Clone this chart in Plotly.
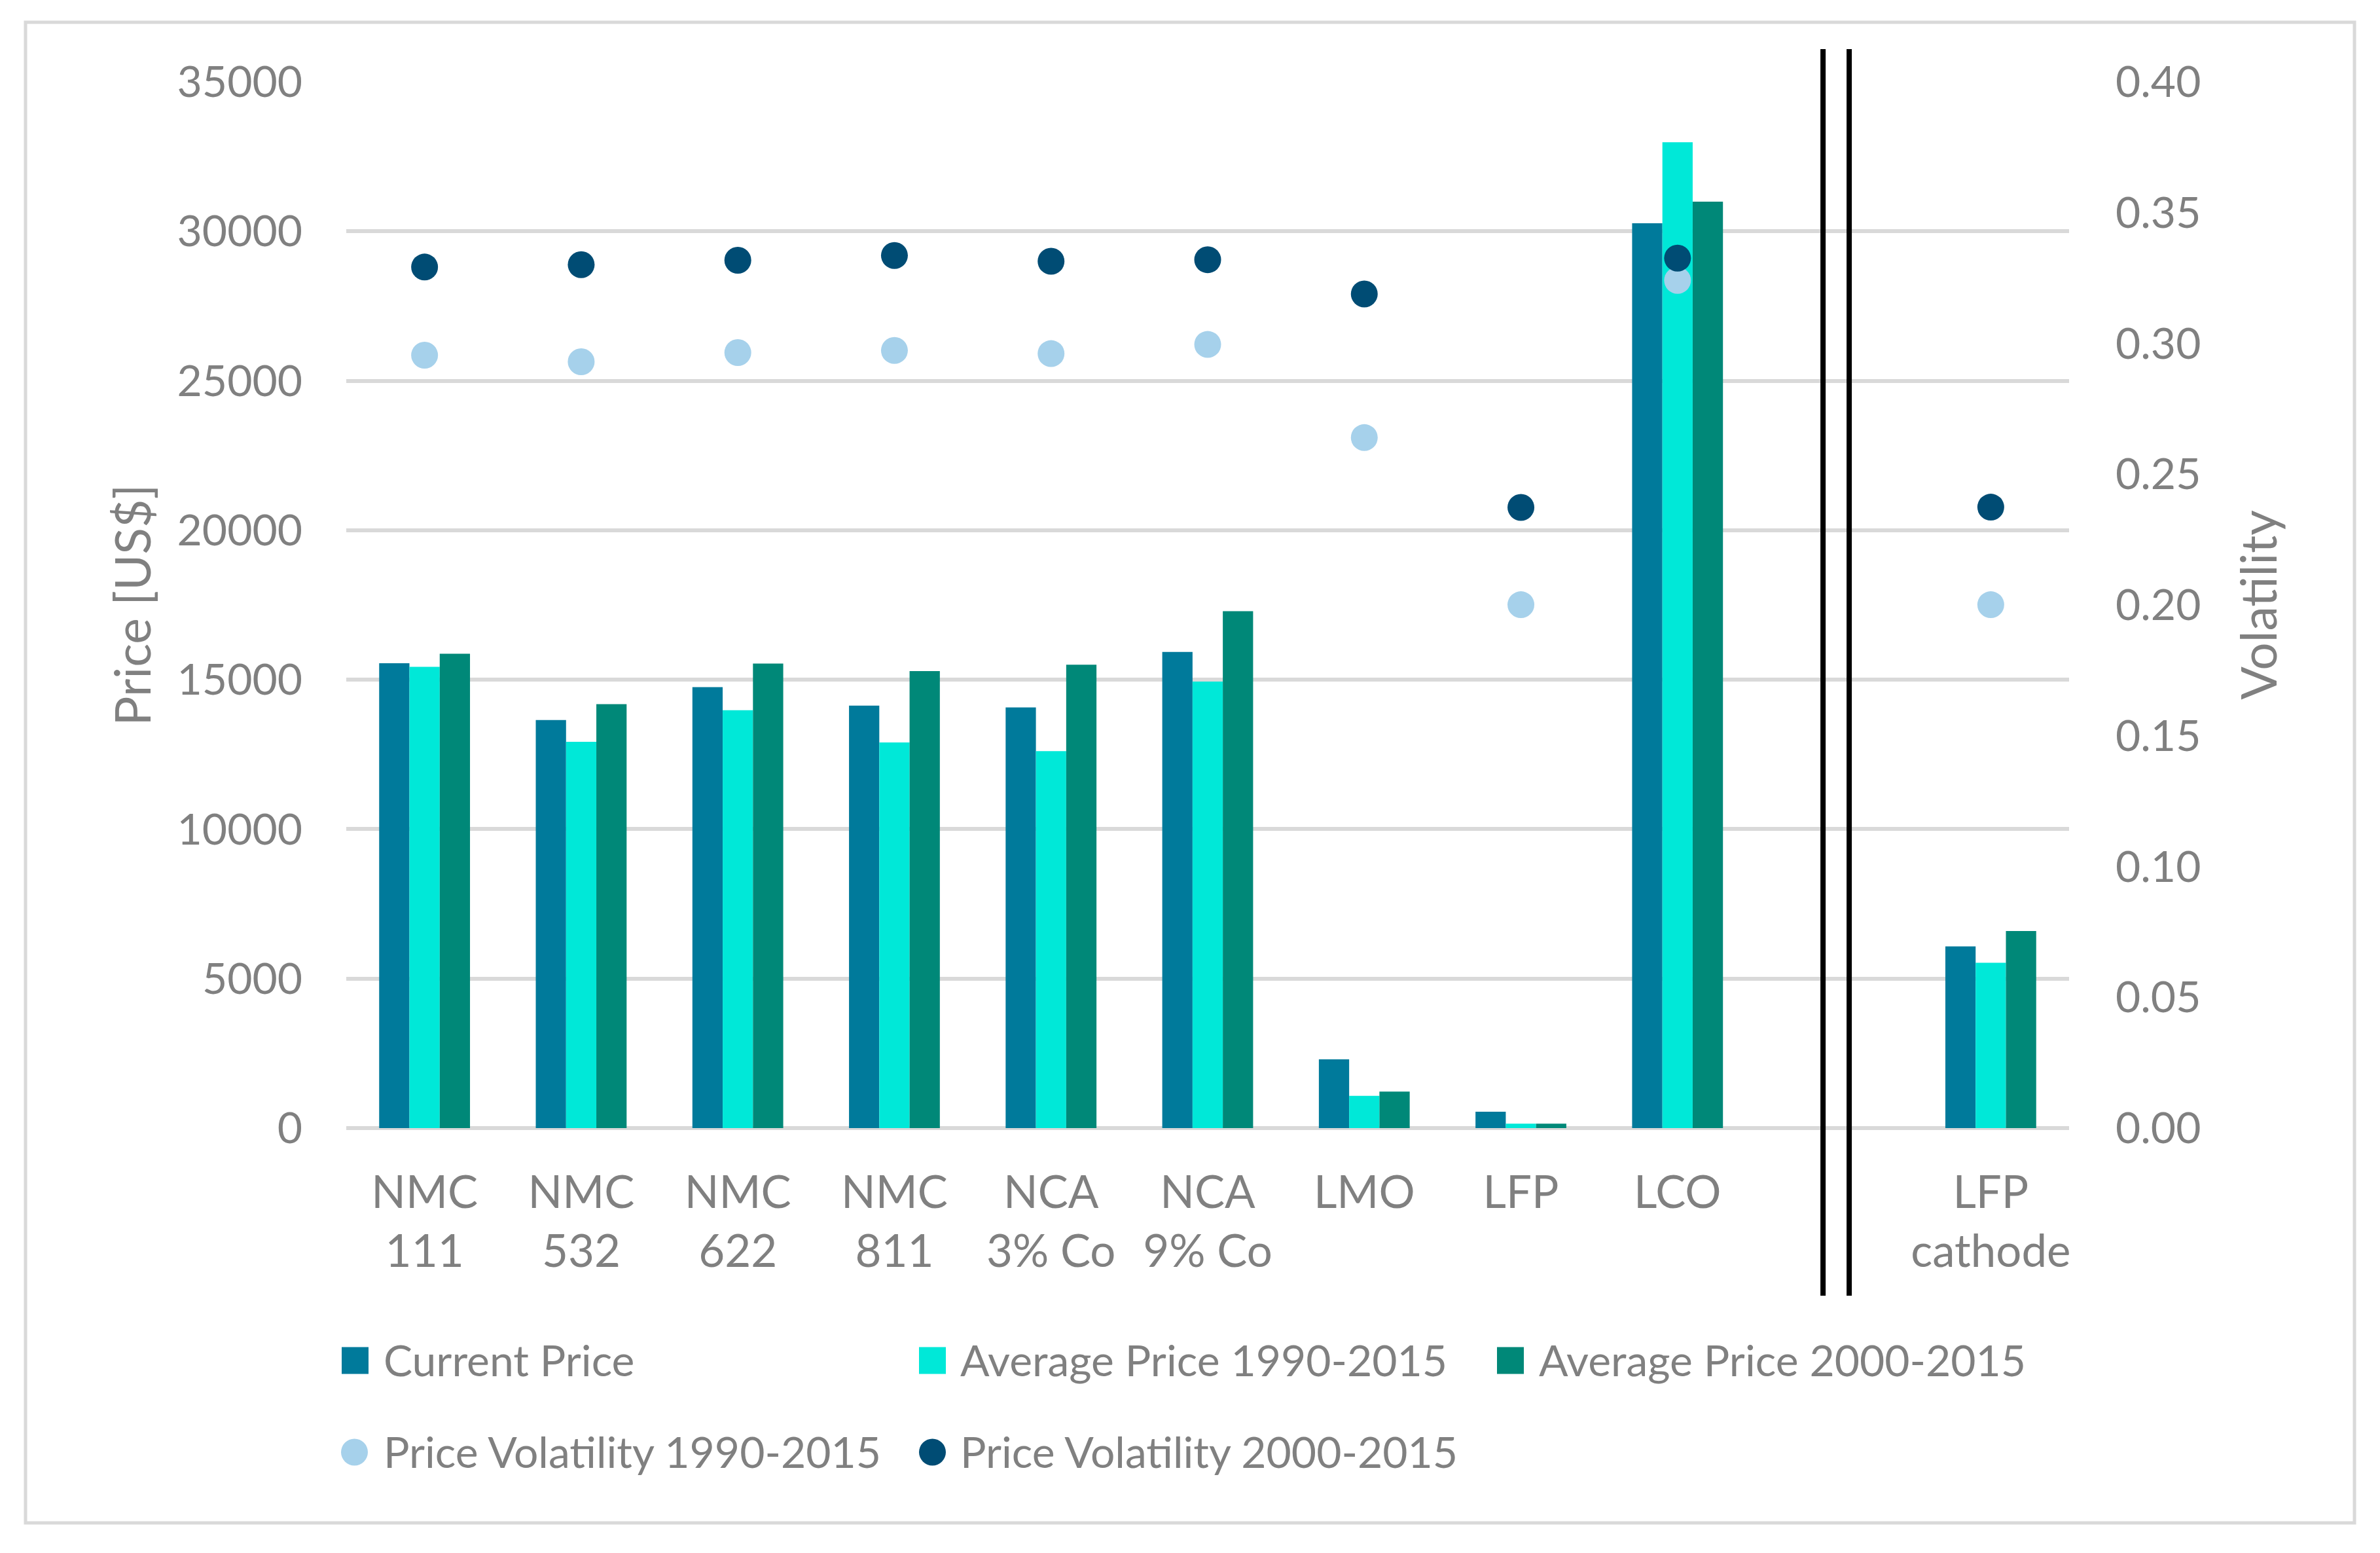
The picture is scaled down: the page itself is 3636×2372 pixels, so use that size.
import plotly.graph_objects as go

# ---------------- data ----------------
categories = ["NMC<br>111", "NMC<br>532", "NMC<br>622", "NMC<br>811",
              "NCA<br>3% Co", "NCA<br>9% Co", "LMO", "LFP", "LCO", " ",
              "LFP<br>cathode"]
current_price = [15550, 13650, 14750, 14130, 14070, 15930, 2300, 550, 30270, None, 6080]
avg_price_1990_2015 = [15430, 12920, 13980, 12900, 12610, 14940, 1080, 150, 32980, None, 5530]
avg_price_2000_2015 = [15870, 14180, 15540, 15290, 15500, 17290, 1220, 150, 30990, None, 6590]
volatility_1990_2015 = [0.2955, 0.2930, 0.2965, 0.2973, 0.2961, 0.2996, 0.2640, 0.2001, 0.3241, None, 0.2001]
volatility_2000_2015 = [0.3292, 0.3301, 0.3318, 0.3336, 0.3314, 0.3320, 0.3189, 0.2373, 0.3326, None, 0.2374]
price_ticks = [0, 5000, 10000, 15000, 20000, 25000, 30000, 35000]
vol_ticks = [0.00, 0.05, 0.10, 0.15, 0.20, 0.25, 0.30, 0.35, 0.40]

# ---------------- style ----------------
FONT = "Lato"
GRAY = "#808080"
GRID = "#D9D9D9"
C_CUR = "#007A9B"
C_A90 = "#00E8D8"
C_A00 = "#008878"
C_V90 = "#A6D1EB"
C_V00 = "#004C74"

W, H = 3636, 2372
ML, MR, MT, MB = 529, 475, 125, 649
PW = W - ML - MR
PH = H - MT - MB


def px_x(px):
    return (px - ML) / PW


def px_y(py):
    return (H - MB - py) / PH


fig = go.Figure()
fig.add_trace(go.Bar(x=categories, y=current_price, name="Current Price",
                     marker=dict(color=C_CUR, line=dict(width=0)), showlegend=False))
fig.add_trace(go.Bar(x=categories, y=avg_price_1990_2015, name="Average Price 1990-2015",
                     marker=dict(color=C_A90, line=dict(width=0)), showlegend=False))
fig.add_trace(go.Bar(x=categories, y=avg_price_2000_2015, name="Average Price 2000-2015",
                     marker=dict(color=C_A00, line=dict(width=0)), showlegend=False))
fig.add_trace(go.Scatter(x=categories, y=volatility_1990_2015, name="Price Volatility 1990-2015",
                         mode="markers", yaxis="y2",
                         marker=dict(color=C_V90, size=41, line=dict(width=0)), showlegend=False))
fig.add_trace(go.Scatter(x=categories, y=volatility_2000_2015, name="Price Volatility 2000-2015",
                         mode="markers", yaxis="y2",
                         marker=dict(color=C_V00, size=41, line=dict(width=0)), showlegend=False))

shapes = []
# outer chart border
shapes.append(dict(type="rect", xref="paper", yref="paper",
                   x0=px_x(39), x1=px_x(3597), y0=px_y(2326), y1=px_y(34),
                   line=dict(color=GRID, width=5), layer="below"))
# double separator lines in the gap category
for xc in (8.929, 9.096):
    shapes.append(dict(type="line", xref="x", yref="paper", x0=xc, x1=xc,
                       y0=px_y(1979), y1=px_y(75),
                       line=dict(color="black", width=8)))

# custom legend
legend_items = [
    ("Current Price", C_CUR, "rect", 522, 2078, 584),
    ("Average Price 1990-2015", C_A90, "rect", 1404, 2078, 1465),
    ("Average Price 2000-2015", C_A00, "rect", 2287, 2078, 2349),
    ("Price Volatility 1990-2015", C_V90, "circle", 521, 2218, 584),
    ("Price Volatility 2000-2015", C_V00, "circle", 1404, 2218, 1465),
]
annotations = []
for label, color, kind, sx, cy, tx in legend_items:
    shapes.append(dict(type=kind, xref="paper", yref="paper",
                       x0=px_x(sx), x1=px_x(sx + 41),
                       y0=px_y(cy + 20.5), y1=px_y(cy - 20.5),
                       fillcolor=color, line=dict(width=0)))
    annotations.append(dict(text=label, xref="paper", yref="paper",
                            x=px_x(tx), y=px_y(cy - 2), xanchor="left", yanchor="middle",
                            showarrow=False, font=dict(family=FONT, size=66, color=GRAY)))

fig.update_layout(
    width=W, height=H,
    margin=dict(l=ML, r=MR, t=MT, b=MB, autoexpand=False),
    paper_bgcolor="white", plot_bgcolor="white",
    font=dict(family=FONT, size=66, color=GRAY),
    barmode="group", bargap=0.42, bargroupgap=0,
    showlegend=False,
    shapes=shapes, annotations=annotations,
    xaxis=dict(type="category", categoryorder="array", categoryarray=categories,
               range=[-0.5, len(categories) - 0.5],
               showgrid=False, showline=False, zeroline=False, ticks="",
               tickfont=dict(family=FONT, size=69, color=GRAY),
               ticklabelstandoff=52, automargin=False),
    yaxis=dict(range=[0, 35000], tickvals=price_ticks, tickformat="d",
               showgrid=True, gridcolor=GRID, gridwidth=6,
               zeroline=True, zerolinecolor=GRID, zerolinewidth=6,
               showline=False, ticks="",
               tickfont=dict(family=FONT, size=66, color=GRAY),
               ticklabelstandoff=66, automargin=False,
               title=dict(text="Price [US$]", font=dict(family=FONT, size=75, color=GRAY),
                          standoff=15)),
    yaxis2=dict(range=[0, 0.4], tickvals=vol_ticks, tickformat=".2f",
                overlaying="y", side="right",
                showgrid=False, zeroline=False, showline=False, ticks="",
                tickfont=dict(family=FONT, size=66, color=GRAY),
                ticklabelstandoff=70, automargin=False,
                title=dict(text="Volatility", font=dict(family=FONT, size=75, color=GRAY),
                           standoff=64)),
)

fig.write_html("out.html", config={"displayModeBar": False},
               post_script="document.body.style.margin='0px';")
